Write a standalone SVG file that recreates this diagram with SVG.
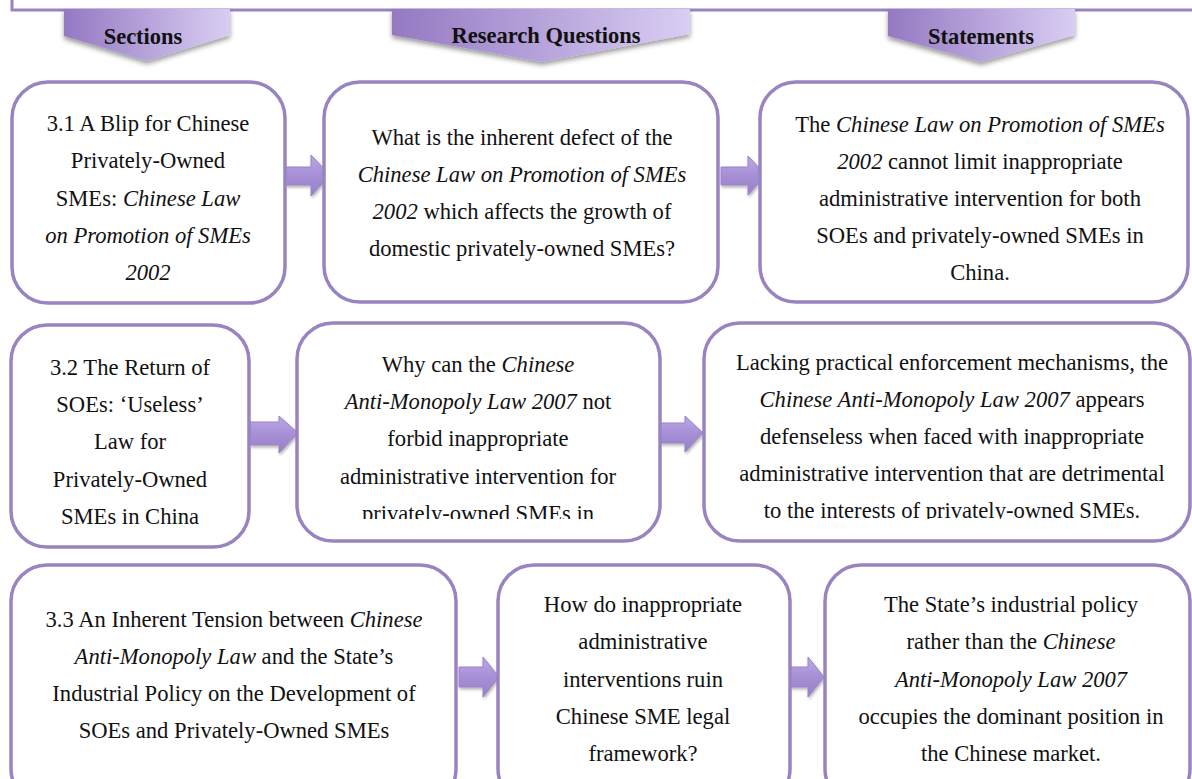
<svg xmlns="http://www.w3.org/2000/svg" width="1192" height="779" viewBox="0 0 1192 779">
<defs>
<style>
.box{fill:#fff;stroke:#9a83c1;stroke-width:3.5}
.frame{fill:#fff;stroke:#9a83c1;stroke-width:3}
.banner{fill:url(#bg);filter:url(#sh)}
.arrow{fill:url(#ag);stroke:#9a82c6;stroke-width:1;filter:url(#sh2)}
.t{font-family:"Liberation Serif","Times New Roman",serif;font-size:22.6px;fill:#111;text-anchor:middle}
.h{font-family:"Liberation Serif","Times New Roman",serif;font-size:22.5px;font-weight:bold;fill:#111;text-anchor:middle}
.i{font-style:italic}
</style>
<linearGradient id="bg" x1="0" y1="0" x2="1" y2="0">
<stop offset="0" stop-color="#9479c2"/>
<stop offset="1" stop-color="#d9cdf3"/>
</linearGradient>
<linearGradient id="ag" x1="0" y1="0" x2="0" y2="1">
<stop offset="0" stop-color="#bca8e6"/>
<stop offset="0.5" stop-color="#a68fd5"/>
<stop offset="1" stop-color="#9880c6"/>
</linearGradient>
<filter id="sh" x="-10%" y="-20%" width="120%" height="160%">
<feDropShadow dx="0" dy="3" stdDeviation="2.5" flood-color="#000" flood-opacity="0.4"/>
</filter>
<filter id="sh2" x="-20%" y="-20%" width="150%" height="160%">
<feDropShadow dx="1" dy="2" stdDeviation="1.5" flood-color="#000" flood-opacity="0.3"/>
</filter>
<clipPath id="c2"><rect x="0" y="320" width="1192" height="199"/></clipPath>
</defs>

<rect class="frame" x="12" y="-30" width="1200" height="40"/>

<g id="banner-sections">
<path class="banner" d="M64,9 L230,9 L230,35 L147,61 L64,36 Z"/>
<text class="h" x="143" y="44">Sections</text>
</g>
<g id="banner-questions">
<path class="banner" d="M392,9 L690,9 L690,34 L542,62 L392,35 Z"/>
<text class="h" x="546" y="43">Research Questions</text>
</g>
<g id="banner-statements">
<path class="banner" d="M888,9 L1075,9 L1075,35 L981,62 L888,36 Z"/>
<text class="h" x="981" y="44">Statements</text>
</g>

<g id="connectors">
<path class="arrow" d="M285,167 H311 V155 L330,175 L311,196 V185 H285 Z"/>
<path class="arrow" d="M721,167 H748 V156 L766,175 L748,195 V185 H721 Z"/>
<path class="arrow" d="M250,422 H279 V416 L298,433 L279,453 V445 H250 Z"/>
<path class="arrow" d="M660,423 H685 V416 L703,433 L685,452 V443 H660 Z"/>
<path class="arrow" d="M459,667 H483 V657 L499,677 L483,697 V687 H459 Z"/>
<path class="arrow" d="M790,667 H808 V657 L824,677 L808,697 V687 H790 Z"/>
</g>

<g id="box-3-1">
<rect class="box" x="12" y="82" width="273" height="221" rx="36"/>
<text class="t" x="148" y="131">3.1 A Blip for Chinese</text>
<text class="t" x="148" y="168">Privately-Owned</text>
<text class="t" x="148" y="206">SMEs: <tspan class="i">Chinese Law</tspan></text>
<text class="t i" x="148" y="243">on Promotion of SMEs</text>
<text class="t i" x="148" y="280">2002</text>
</g>
<g id="box-q1">
<rect class="box" x="324" y="82" width="394" height="220" rx="36"/>
<text class="t" x="522" y="145">What is the inherent defect of the</text>
<text class="t i" x="522" y="182">Chinese Law on Promotion of SMEs</text>
<text class="t" x="522" y="219"><tspan class="i">2002</tspan> which affects the growth of</text>
<text class="t" x="522" y="256">domestic privately-owned SMEs?</text>
</g>
<g id="box-s1">
<rect class="box" x="760" y="82" width="428" height="220" rx="36"/>
<text class="t" x="980" y="132">The <tspan class="i">Chinese Law on Promotion of SMEs</tspan></text>
<text class="t" x="980" y="169"><tspan class="i">2002</tspan> cannot limit inappropriate</text>
<text class="t" x="980" y="206">administrative intervention for both</text>
<text class="t" x="980" y="243">SOEs and privately-owned SMEs in</text>
<text class="t" x="980" y="280">China.</text>
</g>

<g id="box-3-2">
<rect class="box" x="11" y="325" width="238" height="222" rx="36"/>
<text class="t" x="130" y="375">3.2 The Return of</text>
<text class="t" x="130" y="412">SOEs: ‘Useless’</text>
<text class="t" x="130" y="449">Law for</text>
<text class="t" x="130" y="487">Privately-Owned</text>
<text class="t" x="130" y="524">SMEs in China</text>
</g>
<g id="box-q2">
<rect class="box" x="297" y="323" width="363" height="218" rx="36"/>
<g clip-path="url(#c2)">
<text class="t" x="478" y="372">Why can the <tspan class="i">Chinese</tspan></text>
<text class="t" x="478" y="409"><tspan class="i">Anti-Monopoly Law 2007</tspan> not</text>
<text class="t" x="478" y="446">forbid inappropriate</text>
<text class="t" x="478" y="484">administrative intervention for</text>
<text class="t" x="478" y="521">privately-owned SMEs in</text>
</g>
</g>
<g id="box-s2">
<rect class="box" x="704" y="323" width="486" height="218" rx="36"/>
<g clip-path="url(#c2)">
<text class="t" x="952" y="370">Lacking practical enforcement mechanisms, the</text>
<text class="t" x="952" y="407"><tspan class="i">Chinese Anti-Monopoly Law 2007</tspan> appears</text>
<text class="t" x="952" y="444">defenseless when faced with inappropriate</text>
<text class="t" x="952" y="481">administrative intervention that are detrimental</text>
<text class="t" x="952" y="518">to the interests of privately-owned SMEs.</text>
</g>
</g>

<g id="box-3-3">
<rect class="box" x="11" y="565" width="445" height="240" rx="36"/>
<text class="t" x="234" y="627">3.3 An Inherent Tension between <tspan class="i">Chinese</tspan></text>
<text class="t" x="234" y="664"><tspan class="i">Anti-Monopoly Law</tspan> and the State’s</text>
<text class="t" x="234" y="701">Industrial Policy on the Development of</text>
<text class="t" x="234" y="738">SOEs and Privately-Owned SMEs</text>
</g>
<g id="box-q3">
<rect class="box" x="498" y="565" width="292" height="240" rx="36"/>
<text class="t" x="643" y="612">How do inappropriate</text>
<text class="t" x="643" y="649">administrative</text>
<text class="t" x="643" y="687">interventions ruin</text>
<text class="t" x="643" y="724">Chinese SME legal</text>
<text class="t" x="643" y="761">framework?</text>
</g>
<g id="box-s3">
<rect class="box" x="825" y="565" width="365" height="240" rx="36"/>
<text class="t" x="1011" y="612">The State’s industrial policy</text>
<text class="t" x="1011" y="649">rather than the <tspan class="i">Chinese</tspan></text>
<text class="t i" x="1011" y="687">Anti-Monopoly Law 2007</text>
<text class="t" x="1011" y="724">occupies the dominant position in</text>
<text class="t" x="1011" y="761">the Chinese market.</text>
</g>
</svg>
